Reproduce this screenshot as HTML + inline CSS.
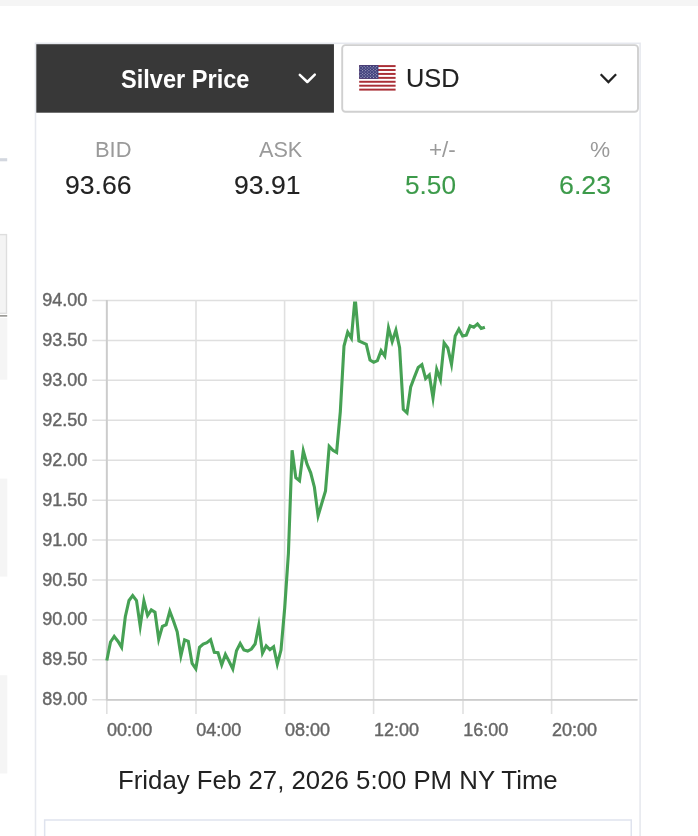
<!DOCTYPE html>
<html lang="en">
<head>
<meta charset="utf-8">
<title>Silver Price</title>
<style>
html,body{margin:0;padding:0;background:#fff;}
body{width:698px;height:836px;position:relative;overflow:hidden;font-family:"Liberation Sans",sans-serif;color:#262626;}
.abs{position:absolute;}
#wrap{position:absolute;left:0;top:0;width:698px;height:836px;overflow:hidden;will-change:transform;}
.topband{left:0;top:0;width:698px;height:6px;background:#f5f5f5;}
.t{white-space:nowrap;line-height:1;transform-origin:left top;}
.sp{font-weight:bold;color:#fff;}
.usd{color:#222;-webkit-text-stroke:0.12px #222;}
.lab{color:#9a9a9a;}
.val{color:#222;-webkit-text-stroke:0.12px #222;}
.grn{color:#3c9a4a;-webkit-text-stroke:0.12px #3c9a4a;}
.foot{color:#222;}
.chart{position:absolute;left:0;top:0;}
.ax{font-family:"Liberation Sans",sans-serif;font-size:18px;fill:#666;stroke:#666;stroke-width:0.4px;}
.flag{position:absolute;left:359px;top:64.7px;}
</style>
</head>
<body>
<div id="wrap">
<div class="abs topband"></div>
<svg class="abs" style="left:0;top:0" width="698" height="836" viewBox="0 0 698 836">
<rect x="0" y="158.2" width="7.2" height="3.1" fill="#d3d7df"/>
<rect x="-3" y="234.6" width="9.5" height="78.7" fill="#f4f4f4" stroke="#dedede" stroke-width="1.4"/>
<rect x="0" y="315" width="7.2" height="1.7" fill="#9c9b97"/>
<rect x="0" y="318" width="7.3" height="61.7" fill="#f5f5f5"/>
<rect x="0" y="478.6" width="7.3" height="98" fill="#f5f5f5"/>
<rect x="0" y="675.2" width="7.3" height="98.3" fill="#f5f5f5"/>
<rect x="35.5" y="43.3" width="604.6" height="830" fill="none" stroke="#e6e8ee" stroke-width="1.55"/>
<rect x="36.3" y="44.2" width="297.65" height="68.5" fill="#383838"/>
<rect x="342.2" y="45.15" width="295.8" height="66.6" rx="3.2" fill="#fff" stroke="#d0d0d0" stroke-width="1.9"/>
<rect x="44.65" y="820" width="586.6" height="40" fill="none" stroke="#dfe3ee" stroke-width="1.5"/>
</svg>
<div class="abs t sp" id="sp" style="left:121.05px;top:66.30px;font-size:26.4px;transform:scaleX(0.893)">Silver Price</div>
<svg class="abs" style="left:297px;top:72px" width="20" height="13" viewBox="0 0 20 13"><polyline points="2.8,2.8 10.3,10.0 17.8,2.7" fill="none" stroke="#fff" stroke-width="2.5" stroke-linecap="round" stroke-linejoin="round"/></svg>
<svg class="flag" width="38" height="27" viewBox="0 0 38 27">
<rect x="0.2" y="0.1" width="36.4" height="25.5" fill="#fff"/>
<rect x="0.2" y="0.100" width="36.4" height="1.962" fill="#aa2f36"/>
<rect x="0.2" y="4.023" width="36.4" height="1.962" fill="#aa2f36"/>
<rect x="0.2" y="7.946" width="36.4" height="1.962" fill="#aa2f36"/>
<rect x="0.2" y="11.869" width="36.4" height="1.962" fill="#aa2f36"/>
<rect x="0.2" y="15.792" width="36.4" height="1.962" fill="#aa2f36"/>
<rect x="0.2" y="19.715" width="36.4" height="1.962" fill="#aa2f36"/>
<rect x="0.2" y="23.638" width="36.4" height="1.962" fill="#aa2f36"/>
<rect x="0.2" y="0.1" width="19.2" height="13.731" fill="#3f3f7c"/>
<circle cx="2.00" cy="1.55" r="0.6" fill="#fff" fill-opacity="0.55"/>
<circle cx="5.15" cy="1.55" r="0.6" fill="#fff" fill-opacity="0.55"/>
<circle cx="8.30" cy="1.55" r="0.6" fill="#fff" fill-opacity="0.55"/>
<circle cx="11.45" cy="1.55" r="0.6" fill="#fff" fill-opacity="0.55"/>
<circle cx="14.60" cy="1.55" r="0.6" fill="#fff" fill-opacity="0.55"/>
<circle cx="17.75" cy="1.55" r="0.6" fill="#fff" fill-opacity="0.55"/>
<circle cx="3.60" cy="2.91" r="0.6" fill="#fff" fill-opacity="0.55"/>
<circle cx="6.75" cy="2.91" r="0.6" fill="#fff" fill-opacity="0.55"/>
<circle cx="9.90" cy="2.91" r="0.6" fill="#fff" fill-opacity="0.55"/>
<circle cx="13.05" cy="2.91" r="0.6" fill="#fff" fill-opacity="0.55"/>
<circle cx="16.20" cy="2.91" r="0.6" fill="#fff" fill-opacity="0.55"/>
<circle cx="2.00" cy="4.27" r="0.6" fill="#fff" fill-opacity="0.55"/>
<circle cx="5.15" cy="4.27" r="0.6" fill="#fff" fill-opacity="0.55"/>
<circle cx="8.30" cy="4.27" r="0.6" fill="#fff" fill-opacity="0.55"/>
<circle cx="11.45" cy="4.27" r="0.6" fill="#fff" fill-opacity="0.55"/>
<circle cx="14.60" cy="4.27" r="0.6" fill="#fff" fill-opacity="0.55"/>
<circle cx="17.75" cy="4.27" r="0.6" fill="#fff" fill-opacity="0.55"/>
<circle cx="3.60" cy="5.63" r="0.6" fill="#fff" fill-opacity="0.55"/>
<circle cx="6.75" cy="5.63" r="0.6" fill="#fff" fill-opacity="0.55"/>
<circle cx="9.90" cy="5.63" r="0.6" fill="#fff" fill-opacity="0.55"/>
<circle cx="13.05" cy="5.63" r="0.6" fill="#fff" fill-opacity="0.55"/>
<circle cx="16.20" cy="5.63" r="0.6" fill="#fff" fill-opacity="0.55"/>
<circle cx="2.00" cy="6.99" r="0.6" fill="#fff" fill-opacity="0.55"/>
<circle cx="5.15" cy="6.99" r="0.6" fill="#fff" fill-opacity="0.55"/>
<circle cx="8.30" cy="6.99" r="0.6" fill="#fff" fill-opacity="0.55"/>
<circle cx="11.45" cy="6.99" r="0.6" fill="#fff" fill-opacity="0.55"/>
<circle cx="14.60" cy="6.99" r="0.6" fill="#fff" fill-opacity="0.55"/>
<circle cx="17.75" cy="6.99" r="0.6" fill="#fff" fill-opacity="0.55"/>
<circle cx="3.60" cy="8.35" r="0.6" fill="#fff" fill-opacity="0.55"/>
<circle cx="6.75" cy="8.35" r="0.6" fill="#fff" fill-opacity="0.55"/>
<circle cx="9.90" cy="8.35" r="0.6" fill="#fff" fill-opacity="0.55"/>
<circle cx="13.05" cy="8.35" r="0.6" fill="#fff" fill-opacity="0.55"/>
<circle cx="16.20" cy="8.35" r="0.6" fill="#fff" fill-opacity="0.55"/>
<circle cx="2.00" cy="9.71" r="0.6" fill="#fff" fill-opacity="0.55"/>
<circle cx="5.15" cy="9.71" r="0.6" fill="#fff" fill-opacity="0.55"/>
<circle cx="8.30" cy="9.71" r="0.6" fill="#fff" fill-opacity="0.55"/>
<circle cx="11.45" cy="9.71" r="0.6" fill="#fff" fill-opacity="0.55"/>
<circle cx="14.60" cy="9.71" r="0.6" fill="#fff" fill-opacity="0.55"/>
<circle cx="17.75" cy="9.71" r="0.6" fill="#fff" fill-opacity="0.55"/>
<circle cx="3.60" cy="11.07" r="0.6" fill="#fff" fill-opacity="0.55"/>
<circle cx="6.75" cy="11.07" r="0.6" fill="#fff" fill-opacity="0.55"/>
<circle cx="9.90" cy="11.07" r="0.6" fill="#fff" fill-opacity="0.55"/>
<circle cx="13.05" cy="11.07" r="0.6" fill="#fff" fill-opacity="0.55"/>
<circle cx="16.20" cy="11.07" r="0.6" fill="#fff" fill-opacity="0.55"/>
<circle cx="2.00" cy="12.43" r="0.6" fill="#fff" fill-opacity="0.55"/>
<circle cx="5.15" cy="12.43" r="0.6" fill="#fff" fill-opacity="0.55"/>
<circle cx="8.30" cy="12.43" r="0.6" fill="#fff" fill-opacity="0.55"/>
<circle cx="11.45" cy="12.43" r="0.6" fill="#fff" fill-opacity="0.55"/>
<circle cx="14.60" cy="12.43" r="0.6" fill="#fff" fill-opacity="0.55"/>
<circle cx="17.75" cy="12.43" r="0.6" fill="#fff" fill-opacity="0.55"/>
</svg>
<div class="abs t usd" id="usd" style="left:406.06px;top:65.10px;font-size:26.2px;transform:scaleX(0.969)">USD</div>
<svg class="abs" style="left:599px;top:71px" width="20" height="13" viewBox="0 0 20 13"><polyline points="1.7,3.3 9.4,11.0 17.1,3.3" fill="none" stroke="#222" stroke-width="2.3"/></svg>

<div class="abs t lab" id="l1" style="left:94.59px;top:139.00px;font-size:21.2px;transform:scaleX(1.034)">BID</div>
<div class="abs t lab" id="l2" style="left:259.15px;top:139.00px;font-size:21.2px;transform:scaleX(1.021)">ASK</div>
<div class="abs t lab" id="l3" style="left:429.09px;top:139.00px;font-size:21.2px;transform:scaleX(1.06)">+/-</div>
<div class="abs t lab" id="l4" style="left:589.60px;top:139.00px;font-size:21.2px;transform:scaleX(1.07)">%</div>
<div class="abs t val" id="v1" style="left:65.32px;top:172.00px;font-size:26.0px;transform:scaleX(1.023)">93.66</div>
<div class="abs t val" id="v2" style="left:234.47px;top:172.00px;font-size:26.0px;transform:scaleX(1.022)">93.91</div>
<div class="abs t val grn" id="v3" style="left:405.29px;top:172.00px;font-size:26.0px;transform:scaleX(1.008)">5.50</div>
<div class="abs t val grn" id="v4" style="left:558.61px;top:172.00px;font-size:26.0px;transform:scaleX(1.03)">6.23</div>

<svg class="chart" width="698" height="836" viewBox="0 0 698 836">
<line x1="92.3" x2="637.5" y1="300.50" y2="300.50" stroke="#dfdfdf" stroke-width="1.5"/>
<line x1="92.3" x2="637.5" y1="340.43" y2="340.43" stroke="#dfdfdf" stroke-width="1.5"/>
<line x1="92.3" x2="637.5" y1="380.36" y2="380.36" stroke="#dfdfdf" stroke-width="1.5"/>
<line x1="92.3" x2="637.5" y1="420.29" y2="420.29" stroke="#dfdfdf" stroke-width="1.5"/>
<line x1="92.3" x2="637.5" y1="460.22" y2="460.22" stroke="#dfdfdf" stroke-width="1.5"/>
<line x1="92.3" x2="637.5" y1="500.15" y2="500.15" stroke="#dfdfdf" stroke-width="1.5"/>
<line x1="92.3" x2="637.5" y1="540.08" y2="540.08" stroke="#dfdfdf" stroke-width="1.5"/>
<line x1="92.3" x2="637.5" y1="580.01" y2="580.01" stroke="#dfdfdf" stroke-width="1.5"/>
<line x1="92.3" x2="637.5" y1="619.94" y2="619.94" stroke="#dfdfdf" stroke-width="1.5"/>
<line x1="92.3" x2="637.5" y1="659.87" y2="659.87" stroke="#dfdfdf" stroke-width="1.5"/>
<line x1="92.3" x2="637.5" y1="699.80" y2="699.80" stroke="#dfdfdf" stroke-width="1.5"/>
<line x1="106.80" x2="106.80" y1="300.00" y2="713.9" stroke="#e0e0e0" stroke-width="1.6"/>
<line x1="196.00" x2="196.00" y1="300.00" y2="713.9" stroke="#e0e0e0" stroke-width="1.6"/>
<line x1="284.60" x2="284.60" y1="300.00" y2="713.9" stroke="#e0e0e0" stroke-width="1.6"/>
<line x1="373.60" x2="373.60" y1="300.00" y2="713.9" stroke="#e0e0e0" stroke-width="1.6"/>
<line x1="463.00" x2="463.00" y1="300.00" y2="713.9" stroke="#e0e0e0" stroke-width="1.6"/>
<line x1="551.60" x2="551.60" y1="300.00" y2="713.9" stroke="#e0e0e0" stroke-width="1.6"/>
<line x1="106.80" x2="106.80" y1="300.00" y2="700.60" stroke="#cccccc" stroke-width="1.9"/>
<line x1="106.80" x2="637.5" y1="699.80" y2="699.80" stroke="#cccccc" stroke-width="1.7"/>
<defs><clipPath id="cp"><rect x="100" y="301.5" width="540" height="400"/></clipPath></defs>
<polyline clip-path="url(#cp)" fill="none" stroke="#46a154" stroke-width="3.1" stroke-linejoin="miter" stroke-miterlimit="10" points="106.8,660.5 110.5,642.0 114.2,636.5 117.9,641.2 121.6,647.4 125.3,616.7 129.0,600.5 132.7,595.5 136.5,600.5 140.2,626.2 143.9,601.0 147.6,615.5 151.3,609.9 155.0,612.2 158.7,639.2 162.4,626.3 166.1,624.8 169.8,611.3 173.5,621.0 177.2,631.8 180.9,655.9 184.6,639.9 188.3,641.4 192.1,663.4 195.8,668.7 199.5,647.3 203.2,644.0 206.9,642.6 210.6,639.6 214.3,652.4 218.0,652.8 221.7,664.9 225.4,654.4 229.1,661.4 232.8,669.0 236.5,650.7 240.2,643.4 243.9,649.9 247.7,651.1 251.4,649.0 255.1,644.0 258.8,625.2 262.5,653.1 266.2,645.9 269.9,649.6 273.6,646.7 277.3,664.0 281.0,650.1 284.7,608.0 288.4,553.5 292.1,450.2 295.8,477.8 299.5,480.8 303.3,450.9 307.0,464.1 310.7,472.8 314.4,487.2 318.1,515.8 321.8,503.2 325.5,491.0 329.2,446.3 332.9,450.3 336.6,452.4 340.3,412.0 344.0,346.0 347.7,332.1 351.4,338.1 355.1,297.0 358.9,341.0 362.6,342.7 366.3,344.4 370.0,360.0 373.7,362.3 377.4,360.6 381.1,350.6 384.8,356.1 388.5,327.9 392.2,341.6 395.9,330.3 399.6,347.7 403.3,409.4 407.0,412.9 410.7,386.9 414.5,376.9 418.2,367.4 421.9,364.6 425.6,378.6 429.3,374.9 433.0,398.0 436.7,369.3 440.4,379.7 444.1,342.9 447.8,348.0 451.5,364.4 455.2,335.9 458.9,329.0 462.6,336.0 466.3,335.2 470.1,325.8 473.8,327.2 477.5,323.9 481.2,328.5 484.9,327.2"/>
<text x="87.2" y="306.00" text-anchor="end" class="ax">94.00</text>
<text x="87.2" y="345.93" text-anchor="end" class="ax">93.50</text>
<text x="87.2" y="385.86" text-anchor="end" class="ax">93.00</text>
<text x="87.2" y="425.79" text-anchor="end" class="ax">92.50</text>
<text x="87.2" y="465.72" text-anchor="end" class="ax">92.00</text>
<text x="87.2" y="505.65" text-anchor="end" class="ax">91.50</text>
<text x="87.2" y="545.58" text-anchor="end" class="ax">91.00</text>
<text x="87.2" y="585.51" text-anchor="end" class="ax">90.50</text>
<text x="87.2" y="625.44" text-anchor="end" class="ax">90.00</text>
<text x="87.2" y="665.37" text-anchor="end" class="ax">89.50</text>
<text x="87.2" y="705.30" text-anchor="end" class="ax">89.00</text>
<text x="107.10" y="735.7" class="ax">00:00</text>
<text x="196.30" y="735.7" class="ax">04:00</text>
<text x="284.90" y="735.7" class="ax">08:00</text>
<text x="373.90" y="735.7" class="ax">12:00</text>
<text x="463.30" y="735.7" class="ax">16:00</text>
<text x="551.90" y="735.7" class="ax">20:00</text>
</svg>
<div class="abs t foot" id="foot" style="left:118.27px;top:767.90px;font-size:25.4px;transform:scaleX(1.016)">Friday Feb 27, 2026 5:00 PM NY Time</div>
</div>
</body>
</html>
